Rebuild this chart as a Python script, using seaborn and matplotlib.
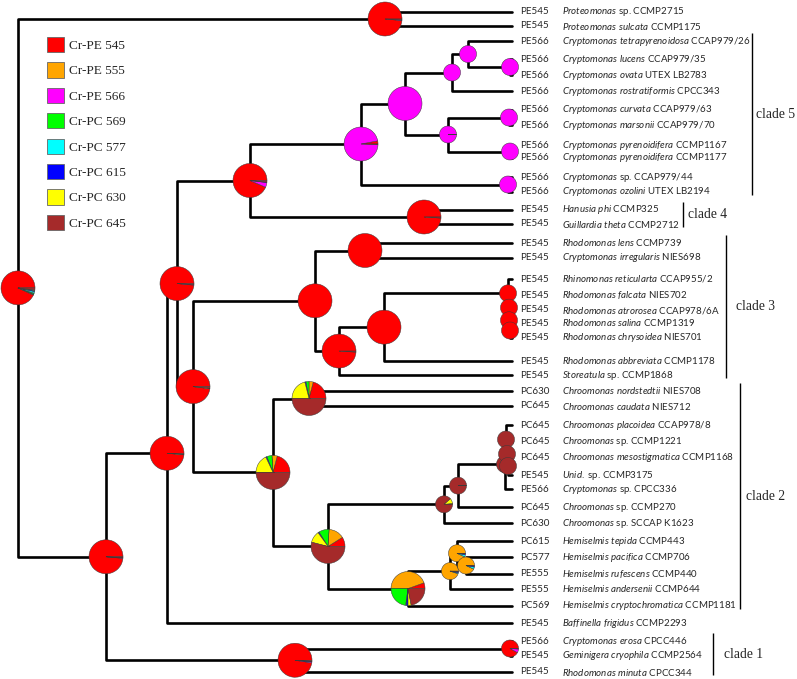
import pandas as pd
import matplotlib
matplotlib.use("Agg")
import matplotlib.pyplot as plt
from matplotlib.patches import Patch
from matplotlib.font_manager import FontProperties
import seaborn as sns

# pigment states, same order in every pie
states = ["Cr-PE 545", "Cr-PE 555", "Cr-PE 566", "Cr-PC 569",
          "Cr-PC 577", "Cr-PC 615", "Cr-PC 630", "Cr-PC 645"]
state_colors = ["#ff0000", "#ffa500", "#ff00ff", "#00ff00",
                "#00ffff", "#0000ff", "#ffff00", "#a52a2a"]

# tips (top to bottom)
tip_codes = ["PE545", "PE545", "PE566", "PE566", "PE566", "PE566", "PE566",
             "PE566", "PE566", "PE566", "PE566", "PE566", "PE545", "PE545",
             "PE545", "PE545", "PE545", "PE545", "PE545", "PE545", "PE545",
             "PE545", "PE545", "PC630", "PC645", "PC645", "PC645", "PC645",
             "PE545", "PE566", "PC645", "PC630", "PC615", "PC577", "PE555",
             "PE555", "PC569", "PE545", "PE566", "PE545", "PE545"]
tip_taxon = ["Proteomonas", "Proteomonas sulcata", "Cryptomonas tetrapyrenoidosa",
             "Cryptomonas lucens", "Cryptomonas ovata", "Cryptomonas rostratiformis",
             "Cryptomonas curvata", "Cryptomonas marsonii", "Cryptomonas pyrenoidifera",
             "Cryptomonas pyrenoidifera", "Cryptomonas", "Cryptomonas ozolini",
             "Hanusia phi", "Guillardia theta", "Rhodomonas lens",
             "Cryptomonas irregularis", "Rhinomonas reticularta", "Rhodomonas falcata",
             "Rhodomonas atrorosea", "Rhodomonas salina", "Rhodomonas chrysoidea",
             "Rhodomonas abbreviata", "Storeatula", "Chroomonas nordstedtii",
             "Chroomonas caudata", "Chroomonas placoidea", "Chroomonas",
             "Chroomonas mesostigmatica", "Unid.", "Cryptomonas", "Chroomonas",
             "Chroomonas", "Hemiselmis tepida", "Hemiselmis pacifica",
             "Hemiselmis rufescens", "Hemiselmis andersenii",
             "Hemiselmis cryptochromatica", "Baffinella frigidus", "Cryptomonas erosa",
             "Geminigera cryophila", "Rhodomonas minuta"]
tip_strain = ["sp. CCMP2715", "CCMP1175", "CCAP979/26", "CCAP979/35", "UTEX LB2783",
              "CPCC343", "CCAP979/63", "CCAP979/70", "CCMP1167", "CCMP1177",
              "sp. CCAP979/44", "UTEX LB2194", "CCMP325", "CCMP2712", "CCMP739",
              "NIES698", "CCAP955/2", "NIES702", "CCAP978/6A", "CCMP1319", "NIES701",
              "CCMP1178", "sp. CCMP1868", "NIES708", "NIES712", "CCAP978/8",
              "sp. CCMP1221", "CCMP1168", "sp. CCMP3175", "sp. CPCC336", "sp. CCMP270",
              "sp. SCCAP K1623", "CCMP443", "CCMP706", "CCMP440", "CCMP644", "CCMP1181",
              "CCMP2293", "CPCC446", "CCMP2564", "CPCC344"]
tip_y = [12, 26, 41, 59, 75, 91, 110, 125, 145, 158, 177, 192, 210, 224, 243, 258,
         279, 295, 310, 323, 338, 361, 375, 391, 406, 425, 442, 457, 475, 489, 507,
         523, 541, 557, 574, 589, 606, 623, 641, 656, 672]
tip_x = 512

# internal nodes: depth, two children (tip index or node name), pie radius, state probs
node_names = ["root", "proteo", "a", "c", "erosa", "b", "bu", "d", "clade4", "g",
              "sp44", "h", "i", "j", "lucens", "k", "curvata", "pyren", "e", "f",
              "lens", "l", "m", "r1", "r2", "r3", "r4", "p", "q", "r", "s", "t",
              "u1", "u2", "u3", "u4", "v", "w", "x", "y"]
node_x = [18, 385, 106, 295, 510, 167, 177, 250, 424, 361,
          508, 405, 452, 468, 510, 448, 509, 510, 193, 315,
          365, 339, 384, 508, 509, 509, 510, 273, 309, 328, 444, 458,
          505, 506, 507, 508, 408, 450, 457, 466]
node_children = [("proteo", "a"), (0, 1), ("b", "c"), ("erosa", 40), (38, 39),
                 ("bu", 37), ("d", "e"), ("g", "clade4"), (12, 13), ("h", "sp44"),
                 (10, 11), ("i", "k"), ("j", 5), (2, "lucens"), (3, 4),
                 ("curvata", "pyren"), (6, 7), (8, 9), ("f", "p"), ("lens", "l"),
                 (14, 15), ("m", 22), ("r1", 21), (16, "r2"), (17, "r3"), (18, "r4"),
                 (19, 20), ("q", "r"), (23, 24), ("s", "v"), ("t", 31), ("u1", 30),
                 ("u2", 29), (25, "u3"), (26, "u4"), (27, 28), ("w", 36), ("x", 35),
                 (32, "y"), (33, 34)]
node_radius = [17, 17, 17, 17, 8.5, 17, 17, 17, 17, 17,
               8.5, 17, 8.5, 8.5, 8.5, 8.5, 8.5, 8.5, 17, 17,
               17, 17, 17, 8.5, 8.5, 8.5, 8.5, 17, 17, 17, 8.5, 8.5,
               8.5, 8.5, 8.5, 8.5, 17, 8.5, 8.5, 8.5]
red = [1, 0, 0, 0, 0, 0, 0, 0]
magenta = [0, 0, 1, 0, 0, 0, 0, 0]
brown = [0, 0, 0, 0, 0, 0, 0, 1]
node_pie = [
    [0.93, 0.005, 0.005, 0.01, 0.015, 0.01, 0.005, 0.02],   # root
    [0.985, 0, 0.005, 0, 0, 0, 0, 0.01],                    # proteo
    [0.985, 0, 0.005, 0, 0, 0.002, 0, 0.008],               # a
    [0.975, 0, 0.01, 0, 0, 0.005, 0, 0.01],                 # c
    [0.92, 0, 0.07, 0, 0, 0, 0, 0.01],                      # erosa
    [0.985, 0, 0, 0, 0, 0, 0.005, 0.01],                    # b
    [0.985, 0, 0.005, 0, 0, 0, 0, 0.01],                    # bu
    [0.935, 0, 0.045, 0, 0, 0.005, 0, 0.015],               # d
    [0.99, 0, 0, 0, 0, 0, 0, 0.01],                         # clade4
    [0.03, 0, 0.965, 0, 0, 0, 0, 0.005],                    # g
    magenta, magenta, magenta, magenta, magenta,            # sp44 h i j lucens
    [0.005, 0, 0.99, 0, 0, 0, 0, 0.005],                    # k
    magenta, magenta,                                       # curvata pyren
    [0.98, 0, 0, 0, 0, 0, 0.005, 0.015],                    # e
    red, red,                                               # f lens
    [0.99, 0, 0, 0, 0, 0, 0, 0.01],                         # l
    red, red, red, red, red,                                # m r1-r4
    [0.21, 0.05, 0, 0.05, 0, 0.01, 0.18, 0.50],             # p
    [0.21, 0.04, 0, 0.03, 0, 0.01, 0.21, 0.50],             # q
    [0.09, 0.15, 0, 0.10, 0, 0.01, 0.11, 0.54],             # r
    [0.005, 0, 0, 0.005, 0, 0.005, 0.10, 0.885],            # s
    [0, 0, 0, 0, 0, 0, 0.005, 0.995],                       # t
    brown, brown, brown, brown,                             # u1-u4
    [0.055, 0.444, 0, 0.23, 0.005, 0.017, 0.03, 0.22],      # v
    [0, 0.95, 0, 0, 0.02, 0.02, 0, 0.01],                   # w
    [0, 0.93, 0, 0, 0.04, 0.02, 0, 0.01],                   # x
    [0, 0.93, 0, 0, 0.04, 0.02, 0, 0.01],                   # y
]

# clades: label, first tip, last tip, bar x, label x
clade_labels = ["clade 5", "clade 4", "clade 3", "clade 2", "clade 1"]
clade_first = [2, 12, 14, 23, 38]
clade_last = [11, 13, 22, 36, 40]
clade_bar_x = [752, 683, 726, 740, 713]
clade_text_x = [756, 688, 736, 746, 724]


def main():
    sns.set_theme(style="white")
    plt.rcParams["font.family"] = ["Lato", "DejaVu Sans"]
    plt.rcParams["mathtext.fontset"] = "custom"
    plt.rcParams["mathtext.rm"] = "Lato"
    plt.rcParams["mathtext.it"] = "Lato:italic"
    plt.rcParams["mathtext.bf"] = "Lato:bold"

    idx = {n: i for i, n in enumerate(node_names)}
    ys = {}

    def pos(c):
        if isinstance(c, int):
            return tip_x, tip_y[c]
        i = idx[c]
        if c not in ys:
            ys[c] = (pos(node_children[i][0])[1] + pos(node_children[i][1])[1]) / 2
        return node_x[i], ys[c]

    # branches as one bracket polyline per internal node
    rows = []
    for i, n in enumerate(node_names):
        (x1, y1), (x2, y2) = pos(node_children[i][0]), pos(node_children[i][1])
        for px, py in [(x1, y1), (node_x[i], y1), (node_x[i], y2), (x2, y2)]:
            rows.append({"seg": n, "x": px, "y": py})
    seg_df = pd.DataFrame(rows)

    fig = plt.figure(figsize=(7.97, 6.79), dpi=100)
    ax = fig.add_axes([0, 0, 1, 1])
    sns.lineplot(data=seg_df, x="x", y="y", units="seg", estimator=None, sort=False,
                 color="black", linewidth=1.9, legend=False, ax=ax)

    for i, n in enumerate(node_names):
        x, y = pos(n)
        fr = [(f, c) for f, c in zip(node_pie[i], state_colors) if f > 0]
        ax.pie([f for f, _ in fr], colors=[c for _, c in fr], center=(x, y),
               radius=node_radius[i], startangle=0, counterclock=False, frame=True,
               wedgeprops=dict(edgecolor="#3a3a3a", linewidth=0.35, zorder=3))

    for code, taxon, strain, y in zip(tip_codes, tip_taxon, tip_strain, tip_y):
        ax.text(520, y, code, fontsize=7.1, va="center", ha="left", zorder=4)
        lab = r"$\mathit{" + taxon.replace(" ", r"\ ") + "}$ " + strain
        ax.text(562, y, lab, fontsize=7.0, va="center", ha="left", zorder=4)

    serif = FontProperties(family="Liberation Serif", size=9.8)
    for lab, a, b, bx, tx in zip(clade_labels, clade_first, clade_last,
                                 clade_bar_x, clade_text_x):
        y0, y1 = tip_y[a] - 8, tip_y[b] + 3
        ax.vlines(bx, y0, y1, color="black", linewidth=1.0)
        ax.text(tx, (y0 + y1) / 2, lab, fontproperties=serif, va="center", ha="left")

    handles = [Patch(facecolor=c, edgecolor="#666666", linewidth=0.6, label=s)
               for s, c in zip(states, state_colors)]
    ax.legend(handles=handles, loc="upper left", bbox_to_anchor=(47 / 797, 1 - 37 / 679),
              bbox_transform=fig.transFigure, frameon=False,
              prop=FontProperties(family="Liberation Serif", size=9.5),
              handlelength=1.3, handleheight=1.4, labelspacing=0.77,
              handletextpad=0.4, borderpad=0, borderaxespad=0)

    ax.set_xlim(0, 797)
    ax.set_ylim(679, 0)
    ax.set_aspect("auto")
    ax.axis("off")
    fig.savefig("out.png", dpi=100, facecolor="white")


if __name__ == "__main__":
    main()
